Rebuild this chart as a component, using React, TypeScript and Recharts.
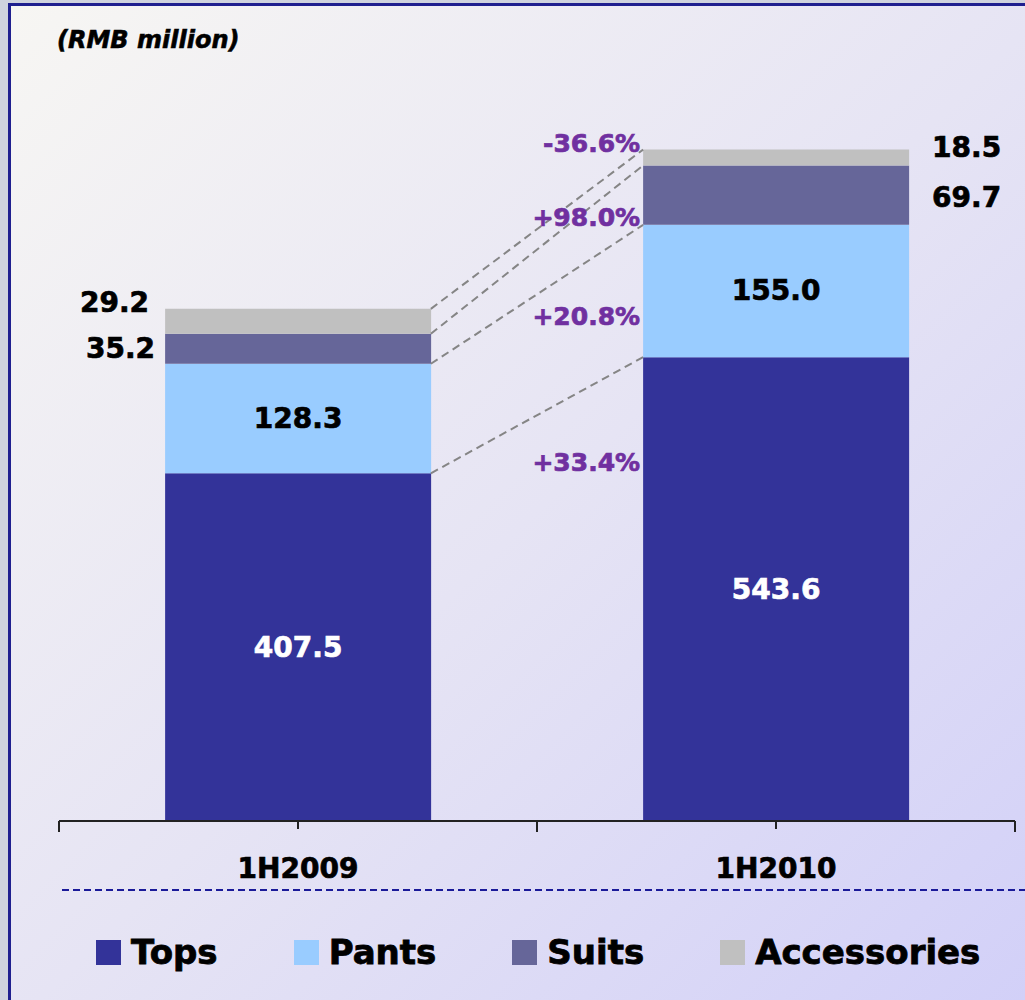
import React from 'react';
import {
  BarChart,
  Bar,
  XAxis,
  YAxis,
  LabelList,
  ReferenceLine,
  Legend,
} from 'recharts';

const periods = ['1H2009', '1H2010'];
const tops = [407.5, 543.6];
const pants = [128.3, 155.0];
const suits = [35.2, 69.7];
const accessories = [29.2, 18.5];
// growth 1H2010 vs 1H2009, same order as the stack
const growth = ['+33.4%', '+20.8%', '+98.0%', '-36.6%'];
// slot of each period on the 0..4 tick axis
const slots = [1, 3];

const FONT = "'DejaVu Sans', Verdana, sans-serif";
const BAR_FRACTION = 0.556;

const series = [
  { key: 'tops', name: 'Tops', color: '#333399', values: tops },
  { key: 'pants', name: 'Pants', color: '#99CCFF', values: pants },
  { key: 'suits', name: 'Suits', color: '#666699', values: suits },
  { key: 'accessories', name: 'Accessories', color: '#C0C0C0', values: accessories },
];

const data = periods.map((p, i) => ({
  period: p,
  slot: slots[i],
  tops: tops[i],
  pants: pants[i],
  suits: suits[i],
  accessories: accessories[i],
}));

// label placement per series
const labelCfg: Record<string, any> = {
  tops: { inside: true, fill: '#FFFFFF', growthDy: 105 },
  pants: { inside: true, fill: '#000000', growthDy: 92 },
  suits: { inside: false, gapL: 10, gapR: 23, dy: [0, 2], growthDy: 52 },
  accessories: { inside: false, gapL: 16, gapR: 23, dy: [-19, -10], growthDy: -6 },
};

const boldText = (color: string) => ({
  fontFamily: FONT,
  fontWeight: 700,
  stroke: color,
  strokeWidth: 0.7,
});

const makeLabel = (key: string, si: number) => (props: any) => {
  const { x, y, width, height, value, index } = props;
  const cfg = labelCfg[key];
  const text = Number(value).toFixed(1);
  const out: React.ReactNode[] = [];
  if (cfg.inside) {
    out.push(
      <text
        key="v"
        x={x + width / 2}
        y={y + height / 2}
        textAnchor="middle"
        dominantBaseline="central"
        fill={cfg.fill}
        style={{ ...boldText(cfg.fill), fontSize: 28 }}
      >
        {text}
      </text>
    );
  } else {
    const left = index === 0;
    out.push(
      <text
        key="v"
        x={left ? x - cfg.gapL : x + width + cfg.gapR}
        y={y + height / 2 + cfg.dy[index]}
        textAnchor={left ? 'end' : 'start'}
        dominantBaseline="central"
        fill="#000000"
        style={{ ...boldText('#000000'), fontSize: 28 }}
      >
        {text}
      </text>
    );
  }
  if (index === 1) {
    out.push(
      <text
        key="g"
        x={x - 3}
        y={y + cfg.growthDy}
        textAnchor="end"
        dominantBaseline="central"
        fill="#7030A0"
        style={{ ...boldText('#7030A0'), fontSize: 25 }}
      >
        {growth[si]}
      </text>
    );
  }
  return <g>{out}</g>;
};

// cumulative stack tops for the connector lines
const stackTop = (i: number, upTo: number) =>
  series.slice(0, upTo + 1).reduce((s, ser) => s + ser.values[i], 0);

const AxisTick = (props: any) => {
  const { x, y, payload } = props;
  const idx = slots.indexOf(payload.value);
  const label = idx >= 0 ? periods[idx] : '';
  return (
    <g>
      <line x1={x} y1={y} x2={x} y2={y + (label ? 8 : 11)} stroke="#222" strokeWidth={2} />
      {label && (
        <text
          x={x}
          y={y + 57}
          textAnchor="middle"
          fill="#000"
          style={{ ...boldText('#000'), fontSize: 28 }}
        >
          {label}
        </text>
      )}
    </g>
  );
};

const LegendContent = () => (
  <div
    style={{
      display: 'flex',
      alignItems: 'center',
      height: 50,
      paddingLeft: 96,
      gap: 76,
      fontFamily: FONT,
      fontWeight: 700,
      fontSize: 34,
      color: '#000',
      WebkitTextStroke: '0.8px #000',
    }}
  >
    {series.map((s) => (
      <div key={s.key} style={{ display: 'flex', alignItems: 'center', gap: 10 }}>
        <span style={{ width: 25, height: 25, background: s.color, display: 'inline-block' }} />
        <span>{s.name}</span>
      </div>
    ))}
  </div>
);

export default function App() {
  return (
    <div
      style={{
        position: 'absolute',
        left: 0,
        top: 0,
        width: 1025,
        height: 1000,
        overflow: 'hidden',
        background: '#CFD3DE',
      }}
    >
      <div
        style={{
          position: 'absolute',
          left: 8,
          top: 3,
          width: 1040,
          height: 1020,
          borderLeft: '3px solid #1F1F8F',
          borderTop: '3px solid #1F1F8F',
          background: 'linear-gradient(to bottom right, #F7F6F3 0%, #E6E4F4 50%, #D1CFF8 100%)',
        }}
      />
      <div
        style={{
          position: 'absolute',
          left: 57,
          top: 26,
          fontFamily: FONT,
          fontWeight: 700,
          fontStyle: 'italic',
          fontSize: 24,
          color: '#000',
          WebkitTextStroke: '0.6px #000',
        }}
      >
        (RMB million)
      </div>
      <svg style={{ position: 'absolute', left: 0, top: 0 }} width={1025} height={1000}>
        <line x1={62} y1={890} x2={1025} y2={890} stroke="#1A1A99" strokeWidth={2} strokeDasharray="7 4" />
      </svg>
      <div style={{ position: 'absolute', left: 0, top: 0 }}>
        <BarChart
          width={1025}
          height={1000}
          data={data}
          margin={{ top: 53, right: 10, left: 59, bottom: 69 }}
          barCategoryGap={`${((1 - BAR_FRACTION) / 2) * 100}%`}
        >
          <XAxis xAxisId="cat" dataKey="period" hide height={0} />
          <XAxis
            xAxisId="grid"
            dataKey="slot"
            type="number"
            domain={[0, 4]}
            allowDataOverflow
            ticks={[0, 1, 2, 3, 4]}
            interval={0}
            height={60}
            tickSize={0}
            tickMargin={0}
            tickLine={false}
            axisLine={{ stroke: '#222', strokeWidth: 2 }}
            tick={<AxisTick />}
          />
          <YAxis domain={[0, 900]} hide />
          {series.map((s, si) => (
            <Bar
              key={s.key}
              xAxisId="cat"
              dataKey={s.key}
              name={s.name}
              stackId="a"
              fill={s.color}
              isAnimationActive={false}
            >
              <LabelList dataKey={s.key} content={makeLabel(s.key, si)} />
            </Bar>
          ))}
          {series.map((s, si) => (
            <ReferenceLine
              key={`c-${s.key}`}
              xAxisId="grid"
              segment={[
                { x: slots[0] + BAR_FRACTION, y: stackTop(0, si) },
                { x: slots[1] - BAR_FRACTION, y: stackTop(1, si) },
              ]}
              stroke="#858585"
              strokeWidth={2}
              strokeDasharray="8 5"
              ifOverflow="visible"
            />
          ))}
          <Legend
            content={<LegendContent />}
            wrapperStyle={{ top: 927, left: 0, bottom: 'auto', width: 1025 }}
          />
        </BarChart>
      </div>
    </div>
  );
}
